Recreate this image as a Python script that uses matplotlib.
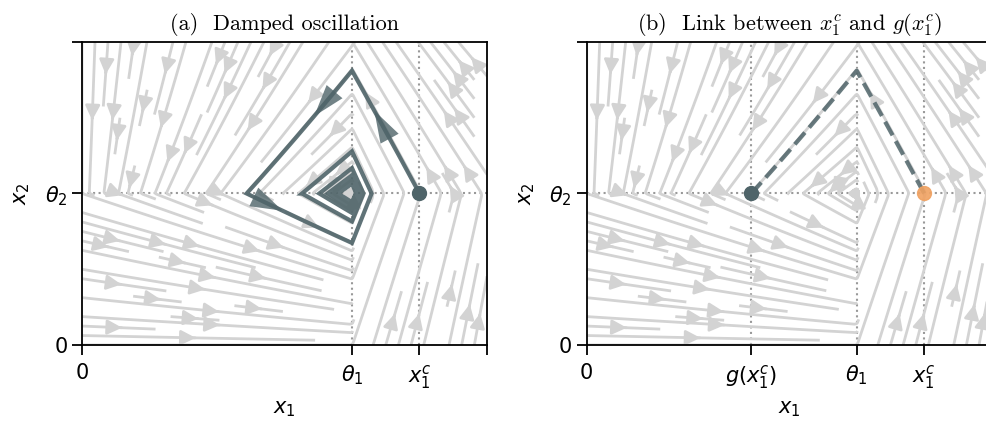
import numpy as np
import matplotlib
matplotlib.use("Agg")
import matplotlib.pyplot as plt
from matplotlib.patches import FancyArrowPatch

# model parameters (piecewise-linear two-gene network)
theta1, theta2 = 4.0, 1.0
kappa1, kappa2 = 8.0, 5.34
gamma1, gamma2 = 1.0, 1.2
x1c = 5.0
g_x1c = 2.44
x_max, y_max = 6.0, 2.0

xticks_a = [0, theta1, x1c, x_max]
xlabels_a = ['0', r'$\theta_1$', r'$x_1^c$', '']
xticks_b = [0, g_x1c, theta1, x1c, x_max]
xlabels_b = ['0', r'$g(x_1^c)$', r'$\theta_1$', r'$x_1^c$', '']
yticks = [0, theta2, y_max]
ylabels = ['0', r'$\theta_2$', '']

# (segment index, fraction along segment) for arrow heads on trajectory
arrow_at = [(0, 0.65), (1, 0.32), (2, 0.32)]

slate = '#4f6469'
stream_gray = '#d3d3d3'


def field(X, Y):
    k1 = np.where(Y < theta2, kappa1, 0.0)
    k2 = np.where(X > theta1, kappa2, 0.0)
    return k1 - gamma1 * X, k2 - gamma2 * Y


def flow_segment(p, upper, right, n=60):
    # exact solution inside one region until it reaches a threshold
    f1 = (0.0 if upper else kappa1) / gamma1
    f2 = (kappa2 if right else 0.0) / gamma2
    times = []
    r = (theta1 - f1) / (p[0] - f1)
    if 0 < r < 1:
        times.append(-np.log(r) / gamma1)
    r = (theta2 - f2) / (p[1] - f2)
    if 0 < r < 1:
        times.append(-np.log(r) / gamma2)
    t = np.linspace(0, min(times), n)
    xs = f1 + (p[0] - f1) * np.exp(-gamma1 * t)
    ys = f2 + (p[1] - f2) * np.exp(-gamma2 * t)
    return np.column_stack([xs, ys])


# cycle of regions: upper-right -> upper-left -> lower-left -> lower-right
regions = [(True, True), (True, False), (False, False), (False, True)]
segments = []
p = (x1c, theta2)
for i in range(28):
    up, rt = regions[i % 4]
    seg = flow_segment(p, up, rt)
    segments.append(seg)
    p = tuple(seg[-1])
    if abs(p[0] - theta1) + abs(p[1] - theta2) < 1e-4:
        break
traj = np.vstack(segments)

xs = np.linspace(0, x_max, 240)
ys = np.linspace(0, y_max, 240)
X, Y = np.meshgrid(xs, ys)
U, V = field(X, Y)

fig = plt.figure(figsize=(9.87, 4.23), dpi=100)
W, H = 987, 423
ax1 = fig.add_axes([82 / W, 78 / H, 405 / W, 303 / H])
ax2 = fig.add_axes([586.7 / W, 78 / H, 405 / W, 303 / H])

for ax in (ax1, ax2):
    ax.streamplot(X, Y, U, V, color=stream_gray, linewidth=2, arrowsize=2.2,
                  density=1.1, zorder=1)
    ax.axhline(theta2, color='#999999', ls=':', lw=1.5, zorder=0)
    ax.axvline(theta1, color='#999999', ls=':', lw=1.5, zorder=0)
    ax.axvline(x1c, color='#999999', ls=':', lw=1.5, zorder=0)
    ax.set_xlim(0, x_max)
    ax.set_ylim(0, y_max)
    ax.set_yticks(yticks, ylabels)
    ax.set_xlabel(r'$x_1$', fontsize=15, labelpad=6)
    ax.set_ylabel(r'$x_2$', fontsize=15, labelpad=9)
    ax.tick_params(labelsize=15, length=7, width=1.3)
    ax.tick_params(axis='x', pad=6)
    for s in ax.spines.values():
        s.set_linewidth(1.3)

# (a) damped oscillation
ax1.set_xticks(xticks_a, xlabels_a)
ax1.plot(traj[:, 0], traj[:, 1], color=slate, lw=3, alpha=0.9,
         solid_joinstyle='miter', zorder=3)
for si, frac in arrow_at:
    seg = segments[si]
    k = int(frac * (len(seg) - 1))
    arr = FancyArrowPatch(seg[0], seg[k],
                          arrowstyle='simple,head_length=0.85,head_width=0.55,tail_width=0.01',
                          mutation_scale=27, facecolor=slate, edgecolor='none',
                          alpha=0.8, shrinkA=0, shrinkB=0, zorder=4)
    ax1.add_patch(arr)
ax1.plot([x1c], [theta2], 'o', color=slate, ms=10, zorder=4)
ax1.set_title(r'(a)  Damped oscillation', fontfamily='cmr10',
              math_fontfamily='cm', fontsize=16, pad=9)

# (b) link between x1c and g(x1c)
ax2.set_xticks(xticks_b, xlabels_b)
ax2.axvline(g_x1c, color='#999999', ls=':', lw=1.5, zorder=0)
path = np.vstack(segments[:2])
ax2.plot(path[:, 0], path[:, 1], '--', color=slate, lw=3, alpha=0.85, zorder=3)
ax2.plot([g_x1c], [theta2], 'o', color=slate, ms=10, zorder=4)
ax2.plot([x1c], [theta2], 'o', color='#f0a262', ms=10, alpha=0.9, zorder=4)
ax2.set_title(r'(b)  Link between $x_1^c$ and $g(x_1^c)$', fontfamily='cmr10',
              math_fontfamily='cm', fontsize=16, pad=9)

fig.savefig('out.png', dpi=100)
